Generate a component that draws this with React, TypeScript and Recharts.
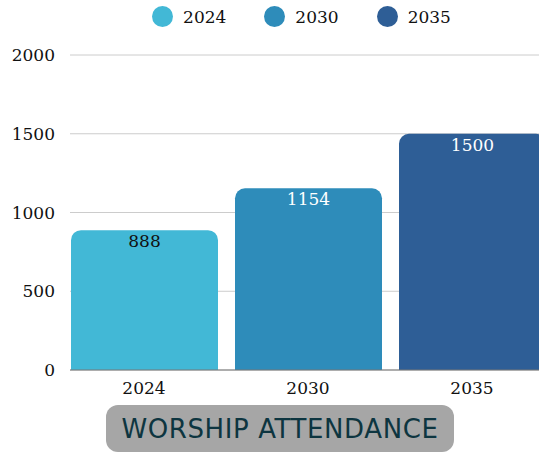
import React from 'react';
import { BarChart, Bar, XAxis, YAxis, CartesianGrid, Legend, LabelList, Cell } from 'recharts';

const years = ['2024', '2030', '2035'];
const attendance = [888, 1154, 1500];
const barColors = ['#42b8d6', '#2e8cba', '#2e5e96'];
const labelColors = ['#111111', '#ffffff', '#ffffff'];
const yTicks = [0, 500, 1000, 1500, 2000];

const chartData = years.map((year, i) => ({ year, value: attendance[i] }));

const serif = '"DejaVu Serif", serif';

const LegendRow = () => (
    <div style={{ display: 'flex', justifyContent: 'center', gap: 38, paddingLeft: 64 }}>
        {years.map((y, i) => (
            <div key={y} style={{ display: 'flex', alignItems: 'center' }}>
                <span style={{ width: 21, height: 21, borderRadius: 11, background: barColors[i], display: 'inline-block', marginRight: 10 }} />
                <span style={{ fontFamily: serif, fontSize: 17, color: '#111' }}>{y}</span>
            </div>
        ))}
    </div>
);

const App = () => {
    return (
        <div style={{ position: 'fixed', left: 0, top: 0, width: 539, height: 455, overflow: 'hidden', background: '#fff' }}>
            <BarChart
                width={556}
                height={400}
                data={chartData}
                margin={{ top: 25, right: 2, bottom: 0, left: 8 }}
            >
                <Legend verticalAlign="top" height={30} content={() => <LegendRow />} wrapperStyle={{ top: 6, left: 0, width: 539 }} />
                <CartesianGrid vertical={false} stroke="#cccccc" />
                <YAxis
                    domain={[0, 2000]}
                    ticks={yTicks}
                    width={62}
                    axisLine={false}
                    tickLine={false}
                    tickSize={0}
                    tickMargin={15}
                    tick={{ fill: '#111', fontFamily: serif, fontSize: 17 }}
                />
                <XAxis
                    dataKey="year"
                    padding={{ left: -8, right: 0 }}
                    axisLine={{ stroke: '#777' }}
                    tickLine={false}
                    tickSize={0}
                    tickMargin={12}
                    tick={{ fill: '#111', fontFamily: serif, fontSize: 17 }}
                />
                <Bar dataKey="value" barSize={147} radius={[10, 10, 0, 0]} isAnimationActive={false}>
                    {chartData.map((d, i) => (
                        <Cell key={d.year} fill={barColors[i]} />
                    ))}
                    <LabelList
                        dataKey="value"
                        position="insideTop"
                        content={(props: any) => {
                            const { x, y, width, value, index } = props;
                            return (
                                <text
                                    x={x + width / 2}
                                    y={y + 17}
                                    textAnchor="middle"
                                    fill={labelColors[index]}
                                    fontFamily={serif}
                                    fontSize={17}
                                >
                                    {value}
                                </text>
                            );
                        }}
                    />
                </Bar>
            </BarChart>
            <div
                style={{
                    position: 'absolute',
                    left: 106,
                    top: 405,
                    width: 348,
                    height: 47,
                    borderRadius: 12,
                    background: '#a6a6a6',
                    display: 'flex',
                    alignItems: 'center',
                    justifyContent: 'center',
                    fontFamily: '"DejaVu Sans", sans-serif',
                    fontSize: 26,
                    letterSpacing: 0.6,
                    color: '#0d3540',
                }}
            >
                WORSHIP ATTENDANCE
            </div>
        </div>
    );
};

export default App;
